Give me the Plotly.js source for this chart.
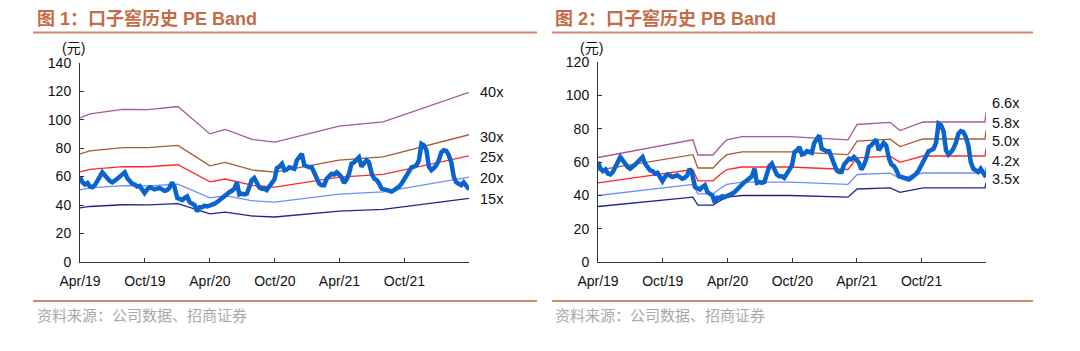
<!DOCTYPE html>
<html>
<head>
<meta charset="utf-8">
<script src="https://cdn.plot.ly/plotly-3.0.1.min.js"></script>
<style>
html,body{margin:0;padding:0;background:#fff;}
#chart{width:1080px;height:351px;}
</style>
</head>
<body>
<div id="chart"></div>
<script>
// ---------- DATA ----------
// Weekly close price (元), shared by both charts, from 2019-04-01 to 2022-04-01
const priceStart = '2019-04-01';
const priceEnd = '2022-04-01';
const price = [
 60,56,54.5,55.5,53,52.5,54,57,60,63,61,58.5,57,56,57,58.5,60,62,63,59,
 57,55,54.5,53,53.5,51,48.5,51,52.5,52,51,51.5,52,51,50,50.5,52,56,53,45,
 44.5,43.5,45,46,42,41,40,35.5,38.5,38.5,39.5,39,39.5,40,41,42,43.5,45,47,48,
 49,50,51.5,56,47.5,48,47.5,48,53,57.5,59,55,52.5,51.5,51.5,50.5,53,56,58,66,
 67,69,64.5,65,66.5,66,65.5,71.5,74,76,68,67,66.5,66.5,63,59,55,54,54,58.5,
 60,62,61.5,63,61.5,59.5,55.5,58,62,69,70,71.5,73.5,67,70,71.5,70,62,58.5,57.5,
 55,51.5,51,50.5,50,49.5,50.5,51.5,53,55,58,62,64.5,66.5,67,68,71.5,83,82,78.5,
 67,64.5,66,68,71.5,77,78.5,78,75,70,60,56,55,54,56,54,51
];

// PE band (元) at breakpoints
const peDates = ['2019-04-01','2019-04-29','2019-07-31','2019-10-10','2020-01-02','2020-04-01',
                 '2020-05-14','2020-07-31','2020-10-01','2021-03-31','2021-08-02','2022-04-01'];
const pe40 = [101.2,104,107.2,107,109.2,90,93.2,86,84.2,95.4,98.4,119.2];
const pe30 = [75.9,78,80.4,80.3,81.9,67.5,69.9,64.5,63.2,71.6,73.8,89.4];
const pe25 = [63.3,65,67,66.9,68.3,56.3,58.3,53.8,52.6,59.6,61.5,74.5];
const pe20 = [50.6,52,53.6,53.5,54.6,45,46.6,43,42.1,47.7,49.2,59.6];
const pe15 = [38,39,40.2,40.1,41,33.8,35,32.3,31.6,35.8,36.9,44.7];
const peLabels = ['40x','30x','25x','20x','15x'];

// PB band (元) at breakpoints
const pbDates = ['2019-04-01','2019-12-25','2020-01-08','2020-02-20','2020-03-11','2020-03-30',
                 '2020-05-12','2020-09-24','2021-03-07','2021-04-02','2021-07-04','2021-08-01',
                 '2021-10-05','2022-03-29','2022-04-01'];
const pb66 = [62.7,73.3,64.2,64.2,69.3,73.3,75.2,75.2,73.3,82.5,83.8,78.9,84,84,89.8];
const pb58 = [55.1,64.4,56.4,56.4,60.9,64.4,66.1,66.1,64.4,72.5,73.7,69.3,73.8,73.8,78.9];
const pb50 = [47.5,55.5,48.7,48.7,52.5,55.5,57,57,55.5,62.5,63.5,59.8,63.6,63.6,68];
const pb42 = [39.9,46.6,40.9,40.9,44.1,46.6,47.9,47.9,46.6,52.5,53.3,50.2,53.4,53.4,57.1];
const pb35 = [33.3,38.9,34.1,34.1,36.8,38.9,39.9,39.9,38.9,43.8,44.5,41.8,44.5,44.5,47.6];
const pbLabels = ['6.6x','5.8x','5.0x','4.2x','3.5x'];

// axis ticks
const xTickVals = ['2019-04-01','2019-10-01','2020-04-01','2020-10-01','2021-04-01','2021-10-01','2022-04-01'];
const xTickText = ['Apr/19','Oct/19','Apr/20','Oct/20','Apr/21','Oct/21',''];

const title1 = '图 1：口子窖历史 PE Band';
const title2 = '图 2：口子窖历史 PB Band';
const unitLabel = '(元)';
const sourceText = '资料来源：公司数据、招商证券';

// ---------- BUILD ----------
const W = 1080, H = 351;
const px = x => x / W;
const py = y => 1 - y / H;

const t0 = new Date(priceStart + 'T00:00:00Z').getTime();
const t1 = new Date(priceEnd + 'T00:00:00Z').getTime();
const priceDates = price.map((_, i) => new Date(t0 + i * (t1 - t0) / (price.length - 1)).toISOString().slice(0, 10));

const bandColors = ['#a8589a', '#a85a32', '#ff2a2a', '#6f8ff5', '#23238e'];
const priceColor = '#0b63ce';
const accent = '#c46c47';
const fontFam = 'Liberation Sans, Arial, Noto Sans CJK SC, sans-serif';

const traces = [];
[pe40, pe30, pe25, pe20, pe15].forEach((s, i) => {
  traces.push({x: peDates, y: s, type: 'scatter', mode: 'lines', xaxis: 'x', yaxis: 'y',
    line: {color: bandColors[i], width: 1.3}, hoverinfo: 'skip'});
});
traces.push({x: priceDates, y: price, type: 'scatter', mode: 'lines', xaxis: 'x', yaxis: 'y',
  line: {color: priceColor, width: 4.5}});
[pb66, pb58, pb50, pb42, pb35].forEach((s, i) => {
  traces.push({x: pbDates, y: s, type: 'scatter', mode: 'lines', xaxis: 'x2', yaxis: 'y2',
    line: {color: bandColors[i], width: 1.3}, hoverinfo: 'skip'});
});
traces.push({x: priceDates, y: price, type: 'scatter', mode: 'lines', xaxis: 'x2', yaxis: 'y2',
  line: {color: priceColor, width: 4.5}});

const xBase = {
  type: 'date', range: [xTickVals[0], xTickVals[xTickVals.length - 1]],
  tickmode: 'array', tickvals: xTickVals, ticktext: xTickText,
  ticks: 'inside', ticklen: 4, tickcolor: '#333', tickwidth: 1,
  showline: true, linecolor: '#333', linewidth: 1, showgrid: false, zeroline: false,
  tickfont: {family: fontFam, size: 14, color: '#111'}, ticklabelstandoff: 6, fixedrange: true
};
const yBase = {
  ticks: 'inside', ticklen: 4, tickcolor: '#333', tickwidth: 1, dtick: 20, tick0: 0,
  showline: true, linecolor: '#333', linewidth: 1, showgrid: false, zeroline: false,
  tickfont: {family: fontFam, size: 14, color: '#111'}, ticklabelstandoff: 5, fixedrange: true
};

const annotations = [];
function addText(text, x, y, opts) {
  annotations.push(Object.assign({text: text, xref: 'paper', yref: 'paper', x: px(x), y: py(y),
    showarrow: false, xanchor: 'left', yanchor: 'middle',
    font: {family: fontFam, size: 14, color: '#111'}}, opts || {}));
}
addText('<b>' + title1 + '</b>', 35, 18.5, {font: {family: fontFam, size: 18, color: accent}});
addText('<b>' + title2 + '</b>', 553, 18.5, {font: {family: fontFam, size: 18, color: accent}});
addText(unitLabel, 73, 48, {xanchor: 'center'});
addText(unitLabel, 591, 48, {xanchor: 'center'});
addText(sourceText, 35, 314, {font: {family: 'Noto Sans CJK SC, sans-serif', size: 15, color: '#a8a8a8'}});
addText(sourceText, 553, 314, {font: {family: 'Noto Sans CJK SC, sans-serif', size: 15, color: '#a8a8a8'}});

const peEnds = [pe40, pe30, pe25, pe20, pe15].map(s => s[s.length - 1]);
const peShift = [0, -2, -1, -1, -1];
peLabels.forEach((t, i) => {
  annotations.push({text: t, xref: 'paper', yref: 'y', x: px(478), y: peEnds[i], yshift: peShift[i],
    showarrow: false, xanchor: 'left', yanchor: 'middle', font: {family: fontFam, size: 14.5, color: '#111'}});
});
const pbEnds = [pb66, pb58, pb50, pb42, pb35].map(s => s[s.length - 1]);
const pbShift = [9, 7.5, 7.5, 6, 3.5];
pbLabels.forEach((t, i) => {
  annotations.push({text: t, xref: 'paper', yref: 'y2', x: px(990), y: pbEnds[i], yshift: pbShift[i],
    showarrow: false, xanchor: 'left', yanchor: 'middle', font: {family: fontFam, size: 14.5, color: '#111'}});
});

function hline(x0, x1, y) {
  return {type: 'line', xref: 'paper', yref: 'paper', x0: px(x0), x1: px(x1), y0: py(y), y1: py(y),
    line: {color: '#cf8a6c', width: 2}};
}
const shapes = [hline(33, 537, 32.5), hline(552, 1033, 32.5), hline(33, 537, 301), hline(552, 1033, 301)];

const layout = {
  width: W, height: H, margin: {l: 0, r: 0, t: 0, b: 0},
  paper_bgcolor: '#fff', plot_bgcolor: '#fff', showlegend: false,
  xaxis: Object.assign({}, xBase, {domain: [px(80), px(469)], anchor: 'y'}),
  yaxis: Object.assign({}, yBase, {domain: [py(262), py(62.7)], range: [0, 140], anchor: 'x'}),
  xaxis2: Object.assign({}, xBase, {domain: [px(598), px(986)], anchor: 'y2'}),
  yaxis2: Object.assign({}, yBase, {domain: [py(262), py(62)], range: [0, 120], anchor: 'x2'}),
  annotations: annotations, shapes: shapes
};

Plotly.newPlot('chart', traces, layout, {displayModeBar: false, staticPlot: true});
</script>
</body>
</html>
